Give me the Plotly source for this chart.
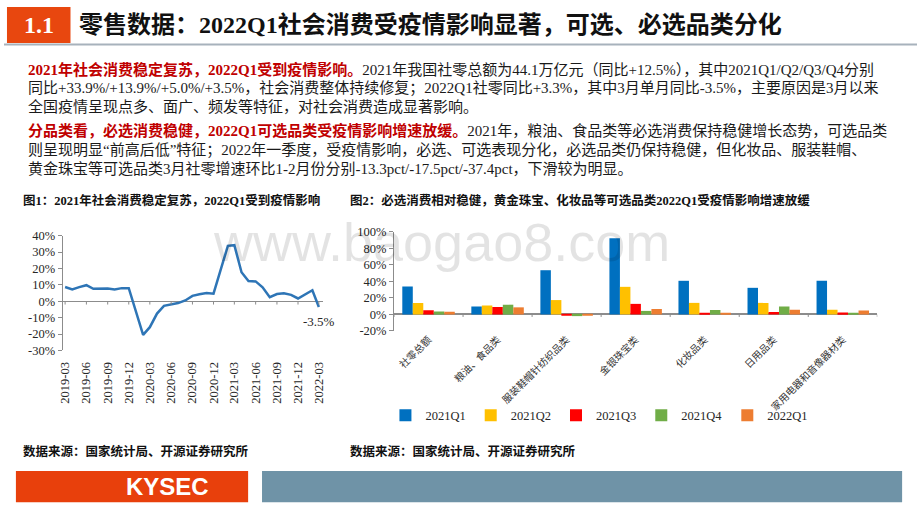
import plotly.graph_objects as go

W, H = 920, 518

SERIF_CJK = "Liberation Serif, Noto Sans CJK SC"
CJK = "Noto Sans CJK SC"
RED = "#C00000"
ORANGE = "#E8470F"
TEXT = "#1a1a1a"

# ---------------- text content ----------------
section_no = "1.1"
page_title = "零售数据：2022Q1社会消费受疫情影响显著，可选、必选品类分化"

para1_lead = "2021年社会消费稳定复苏，2022Q1受到疫情影响。"
para1_lines = [
    "2021年我国社零总额为44.1万亿元（同比+12.5%），其中2021Q1/Q2/Q3/Q4分别",
    "同比+33.9%/+13.9%/+5.0%/+3.5%，社会消费整体持续修复；2022Q1社零同比+3.3%，其中3月单月同比-3.5%，主要原因是3月以来",
    "全国疫情呈现点多、面广、频发等特征，对社会消费造成显著影响。",
]
para2_lead = "分品类看，必选消费稳健，2022Q1可选品类受疫情影响增速放缓。"
para2_lines = [
    "2021年，粮油、食品类等必选消费保持稳健增长态势，可选品类",
    "则呈现明显“前高后低”特征；2022年一季度，受疫情影响，必选、可选表现分化，必选品类仍保持稳健，但化妆品、服装鞋帽、",
    "黄金珠宝等可选品类3月社零增速环比1-2月份分别-13.3pct/-17.5pct/-37.4pct，下滑较为明显。",
]
fig1_title = "图1：2021年社会消费稳定复苏，2022Q1受到疫情影响"
fig2_title = "图2：必选消费相对稳健，黄金珠宝、化妆品等可选品类2022Q1受疫情影响增速放缓"
source_text = "数据来源：国家统计局、开源证券研究所"
brand = "KYSEC"
watermark = "www.baogao8.com"

# ---------------- chart 1 data ----------------
months = ["2019-03", "2019-04", "2019-05", "2019-06", "2019-07", "2019-08", "2019-09",
          "2019-10", "2019-11", "2019-12", "2020-02", "2020-03", "2020-04", "2020-05",
          "2020-06", "2020-07", "2020-08", "2020-09", "2020-10", "2020-11", "2020-12",
          "2021-02", "2021-03", "2021-04", "2021-05", "2021-06", "2021-07", "2021-08",
          "2021-09", "2021-10", "2021-11", "2021-12", "2022-02", "2022-03"]
retail_yoy = [8.7, 7.2, 8.6, 9.8, 7.6, 7.5, 7.8, 7.2, 8.0, 8.0, -20.5, -15.8, -7.5, -2.8,
              -1.8, -1.1, 0.5, 3.3, 4.3, 5.0, 4.6, 33.8, 34.2, 17.7, 12.4, 12.1, 8.5, 2.5,
              4.4, 4.9, 3.9, 1.7, 6.7, -3.5]
line_name = "社会消费品零售总额:当月同比"
last_label = "-3.5%"
c1_tick_months = ["2019-03", "2019-06", "2019-09", "2019-12", "2020-03", "2020-06", "2020-09",
                  "2020-12", "2021-03", "2021-06", "2021-09", "2021-12", "2022-03"]
c1_yticks = [-30, -20, -10, 0, 10, 20, 30, 40]
c1_yticktext = ["-30%", "-20%", "-10%", "0%", "10%", "20%", "30%", "40%"]

# ---------------- chart 2 data ----------------
categories = ["社零总额", "粮油、食品类", "服装鞋帽针纺织品类", "金银珠宝类", "化妆品类", "日用品类",
              "家用电器和音像器材类"]
series_names = ["2021Q1", "2021Q2", "2021Q3", "2021Q4", "2022Q1"]
v_2021q1 = [33.9, 9.7, 53.5, 92.2, 40.7, 32.2, 40.7]
v_2021q2 = [13.9, 10.8, 17.4, 33.4, 14.0, 14.0, 5.8]
v_2021q3 = [5.0, 9.0, -1.0, 12.8, 2.0, 3.1, 2.3]
v_2021q4 = [3.5, 11.8, -2.0, 4.3, 5.4, 9.7, 2.0]
v_2022q1 = [3.3, 8.6, -0.8, 6.6, 1.2, 5.8, 4.7]
series_colors = ["#0070C0", "#FFC000", "#FF0000", "#70AD47", "#ED7D31"]
c2_yticks = [-20, 0, 20, 40, 60, 80, 100]
c2_yticktext = ["-20%", "0%", "20%", "40%", "60%", "80%", "100%"]


def px(x):
    return x / W


def py(y):
    return 1 - y / H


fig = go.Figure()

# chart 1: line
fig.add_trace(go.Scatter(x=months, y=retail_yoy, mode="lines", name=line_name,
                         line=dict(color="#2E75B6", width=2.5),
                         xaxis="x", yaxis="y", legend="legend"))

# chart 2: grouped bars
for name, vals, col in zip(series_names, [v_2021q1, v_2021q2, v_2021q3, v_2021q4, v_2022q1],
                           series_colors):
    fig.add_trace(go.Bar(x=categories, y=vals, name=name, marker=dict(color=col, line=dict(width=0)),
                         xaxis="x2", yaxis="y2", legend="legend2"))

axis_gray = "#8c8c8c"
tickfont_serif = dict(family="Liberation Serif", size=12.5, color="#262626")

fig.update_layout(
    width=W, height=H, margin=dict(l=0, r=0, t=0, b=0),
    paper_bgcolor="white", plot_bgcolor="white",
    barmode="group", bargap=0.24, bargroupgap=0,
    xaxis=dict(domain=[px(59), px(321)], anchor="y", type="date",
               range=["2019-02-18", "2022-03-17"], tickmode="array",
               tickvals=c1_tick_months, ticktext=c1_tick_months, tickangle=-90,
               tickfont=tickfont_serif, showgrid=False, showline=False, ticks="",
               ticklabelstandoff=8, zeroline=False),
    yaxis=dict(domain=[py(353), py(235)], anchor="x", range=[-30, 40], tickmode="array",
               tickvals=c1_yticks, ticktext=c1_yticktext, tickfont=tickfont_serif,
               showgrid=False, showline=True, linecolor=axis_gray, linewidth=1,
               ticks="outside", ticklen=4, tickcolor=axis_gray,
               zeroline=True, zerolinecolor=axis_gray, zerolinewidth=1),
    xaxis2=dict(domain=[px(393), px(880)], anchor="y2", type="category", range=[-0.5, 6.5],
                tickangle=-45, tickfont=dict(family=CJK, size=10, color="#333333"),
                showgrid=False, showline=False, ticks=""),
    yaxis2=dict(domain=[py(333), py(231)], anchor="x2", range=[-20, 100], tickmode="array",
                tickvals=c2_yticks, ticktext=c2_yticktext, tickfont=tickfont_serif,
                showgrid=False, showline=True, linecolor=axis_gray, linewidth=1,
                ticks="outside", ticklen=4, tickcolor=axis_gray,
                zeroline=True, zerolinecolor=axis_gray, zerolinewidth=1.5),
    legend=dict(x=px(72), y=py(421), xanchor="left", yanchor="middle", orientation="h",
                font=dict(family=CJK, size=11.5, color="#333333"), bgcolor="rgba(0,0,0,0)"),
    legend2=dict(x=px(600), y=py(420), xanchor="center", yanchor="middle", orientation="h",
                 font=dict(family="Liberation Serif", size=12.5, color="#262626"),
                 bgcolor="rgba(0,0,0,0)", itemwidth=30),
)

shapes = []
# header
shapes.append(dict(type="rect", xref="paper", yref="paper", x0=px(3), x1=px(67), y0=py(37), y1=py(0),
                   fillcolor=ORANGE, line=dict(width=0)))
shapes.append(dict(type="line", xref="paper", yref="paper", x0=px(0), x1=px(920), y0=py(38.5), y1=py(38.5),
                   line=dict(color="#A7B2BC", width=2)))
# footer
shapes.append(dict(type="rect", xref="paper", yref="paper", x0=px(12), x1=px(246), y0=py(509), y1=py(477),
                   fillcolor="#E8400C", line=dict(width=0)))
shapes.append(dict(type="rect", xref="paper", yref="paper", x0=px(260), x1=px(905), y0=py(509), y1=py(477),
                   fillcolor="#6F93A7", line=dict(width=0)))
# chart 1 x-axis tick marks on the zero line
for m in c1_tick_months:
    shapes.append(dict(type="line", xref="x", yref="y", x0=m, x1=m, y0=0, y1=-2,
                       line=dict(color=axis_gray, width=1)))
# chart 2 category boundary ticks on the zero line
for k in range(len(categories) + 1):
    shapes.append(dict(type="line", xref="x2", yref="y2", x0=k - 0.5, x1=k - 0.5, y0=0, y1=-3,
                       line=dict(color=axis_gray, width=1)))
fig.update_layout(shapes=shapes)

ann = []


def add_text(text, x, y, font, xanchor="left"):
    ann.append(dict(text=text, x=px(x), y=py(y), xref="paper", yref="paper",
                    xanchor=xanchor, yanchor="middle", showarrow=False, font=font))


# light watermark across both charts
add_text(watermark, 441, 242, dict(family="Liberation Sans", size=54, color="rgba(0,0,0,0.11)"),
         xanchor="center")

add_text(f"<b>{section_no}</b>", 35, 19, dict(family="Liberation Serif", size=24, color="white"),
         xanchor="center")
add_text(f"<b>{page_title}</b>", 74, 19, dict(family=SERIF_CJK, size=24, color="#111111"))

para_y = [64, 83, 102, 127, 147, 166]
lines = [f"<b><span style='color:{RED}'>{para1_lead}</span></b>{para1_lines[0]}", para1_lines[1],
         para1_lines[2],
         f"<b><span style='color:{RED}'>{para2_lead}</span></b>{para2_lines[0]}", para2_lines[1],
         para2_lines[2]]
for t, yy in zip(lines, para_y):
    add_text(t, 22, yy, dict(family=SERIF_CJK, size=15, color=TEXT))

for t, xx in [(fig1_title, 17), (fig2_title, 347)]:
    add_text(f"<b>{t}</b>", xx, 199, dict(family=SERIF_CJK, size=12.5, color="#111111"))
for xx in [17, 347]:
    add_text(f"<b>{source_text}</b>", xx, 456, dict(family=CJK, size=12.5, color="#111111"))

add_text(f"<b>{brand}</b>", 165, 493, dict(family="Liberation Sans", size=24, color="white"),
         xanchor="center")

ann.append(dict(text=last_label, x=months[-1], y=retail_yoy[-1], xref="x", yref="y",
                xanchor="center", yanchor="top", yshift=-5, showarrow=False,
                font=dict(family="Liberation Serif", size=13, color="#262626")))

fig.update_layout(annotations=ann)

fig.write_html("out.html", config={"displayModeBar": False},
               post_script="document.body.style.margin='0px';")
